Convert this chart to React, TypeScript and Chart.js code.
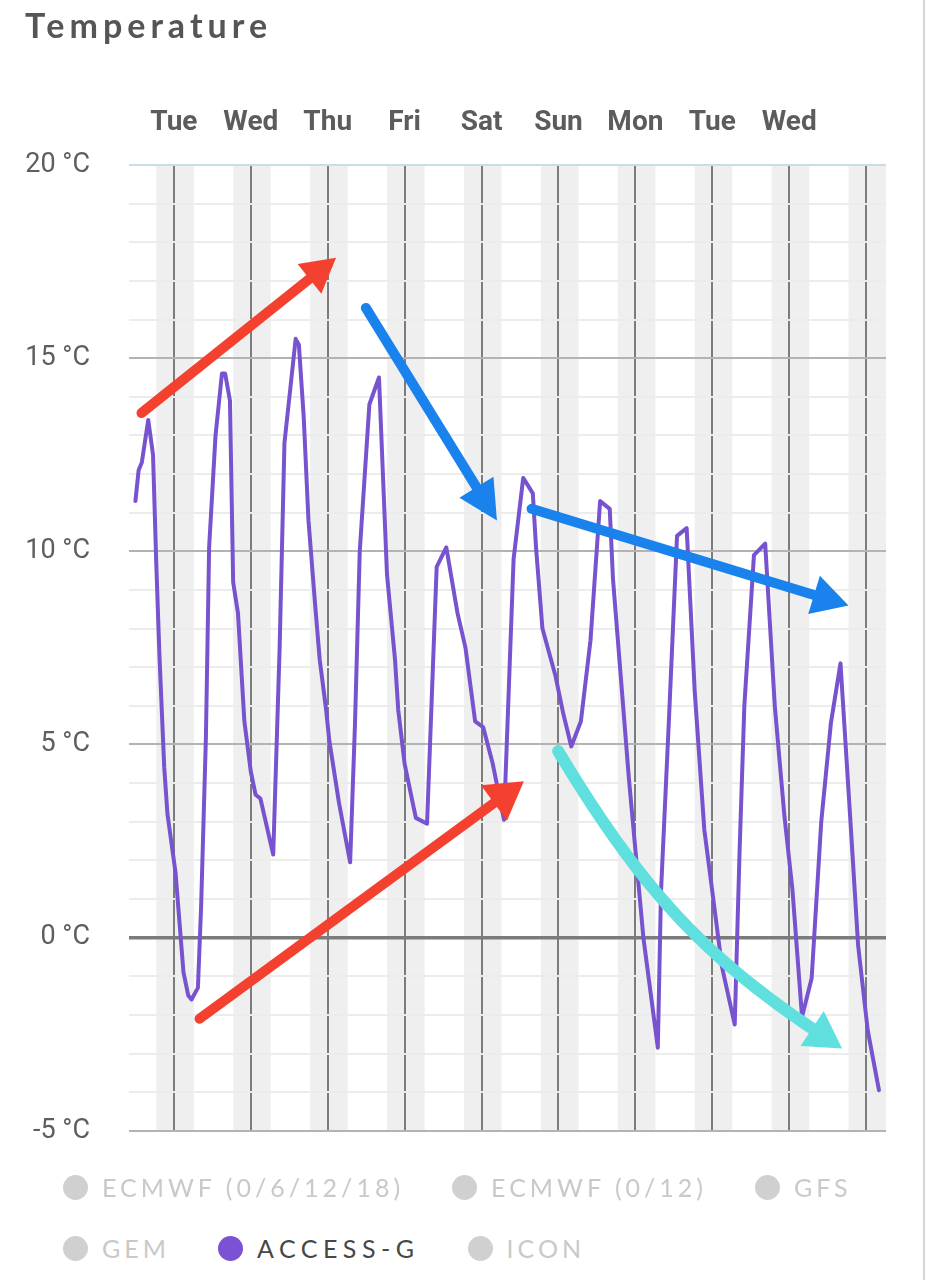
import React, { useEffect, useRef } from "react";
import { Chart, registerables } from "chart.js";

Chart.register(...registerables);

// ---- data (x = hours from Tuesday 00:00, y = °C) ----
const dayLabels = ["Tue", "Wed", "Thu", "Fri", "Sat", "Sun", "Mon", "Tue", "Wed", ""];
const dayTickHours = [0, 24, 48, 72, 96, 120, 144, 168, 192, 216];

const hours = [
  -12, -11, -10, -8, -6.5, -5.5, -4.5, -3, -2, 0.5, 3, 4.5, 5.5, 7.5, 8.5, 10, 11, 13, 15, 16,
  17.5, 18.5, 20, 22, 24, 25.5, 27, 31, 33, 34.5, 38, 39, 40.5, 42, 44, 45.5, 47.5, 48.5, 51.5, 55,
  56.5, 58, 61, 64, 66.5, 69, 70, 72, 75.5, 79, 82, 85, 88.5, 91, 94, 96.5, 99.5, 103, 106, 109,
  112, 113, 115, 119, 121.5, 124, 127, 130, 133, 136, 137, 142, 146.5, 151, 152, 154.5, 157, 160, 162.5, 165.5,
  168, 171, 175, 176.5, 178, 181, 184.5, 187.5, 190.5, 193, 196, 199, 202, 205, 208, 211, 213.5, 216.5, 220,
];
const temps = [
  11.3, 12.1, 12.3, 13.4, 12.5, 9.7, 7.3, 4.4, 3.2, 1.7, -0.9, -1.5, -1.6, -1.3, 0.8, 5.2, 10.1, 13.0, 14.6, 14.6,
  13.9, 9.2, 8.4, 5.6, 4.3, 3.7, 3.6, 2.15, 7.5, 12.8, 15.5, 15.35, 13.5, 10.8, 8.7, 7.2, 5.9, 5.1, 3.5, 1.95,
  5.5, 10.0, 13.8, 14.5, 9.4, 7.2, 5.9, 4.5, 3.1, 2.95, 9.6, 10.1, 8.4, 7.5, 5.6, 5.45, 4.5, 3.05, 9.8, 11.9,
  11.5, 10.1, 8.0, 6.8, 5.8, 4.95, 5.6, 7.7, 11.3, 11.1, 9.3, 4.1, 0.0, -2.85, 1.2, 5.7, 10.4, 10.6, 6.4, 2.8,
  1.2, -0.75, -2.25, 2.2, 6.0, 9.9, 10.2, 6.0, 3.15, 1.25, -2.05, -1.05, 3.0, 5.55, 7.1, 3.15, -0.2, -2.4, -3.95,
];

// night shading [start hour, end hour]
const nightBands = [
  [-5.5, 6.25], [18.5, 30.25], [42.5, 54.25], [66.5, 78.25], [90.5, 102.25],
  [114.5, 126.25], [138.5, 150.25], [162.5, 174.25], [186.5, 198.25], [210.5, 222.25],
];

// hand-drawn annotation arrows, in (hour, °C)
const redArrowUpper = [[-10.1, 13.58], [50.6, 17.6]];
const redArrowLower = [[8.0, -2.1], [109.2, 4.05]];
const blueArrowSteep = [[59.9, 16.3], [100.8, 10.8]];
const blueArrowLong = [[111.6, 11.1], [210.5, 8.6]];
// cubic curve: start, control 1, control 2, tip
const cyanArrowCurve = [[119.9, 4.83], [147.9, 0.97], [167.9, -0.69], [208.5, -2.87]];

const legendRow1 = ["ECMWF (0/6/12/18)", "ECMWF (0/12)", "GFS"];
const legendRow2 = ["GEM", "ACCESS-G", "ICON"];
const activeModel = "ACCESS-G";

const yMin = -5;
const yMax = 20;
const xMin = -14;
const xMax = 222.2;

type P = { x: number; y: number };

function drawArrow(ctx: CanvasRenderingContext2D, pts: P[], color: string, lw: number, headLen: number, headW: number) {
  const n = pts.length;
  const tip = pts[n - 1];
  let k = n - 2;
  while (k > 0 && Math.hypot(tip.x - pts[k].x, tip.y - pts[k].y) < headLen * 1.2) k--;
  const prev = pts[k];
  const ang = Math.atan2(tip.y - prev.y, tip.x - prev.x);
  const cos = Math.cos(ang);
  const sin = Math.sin(ang);
  const base = { x: tip.x - headLen * cos, y: tip.y - headLen * sin };
  ctx.save();
  ctx.strokeStyle = color;
  ctx.fillStyle = color;
  ctx.lineWidth = lw;
  ctx.lineCap = "round";
  ctx.lineJoin = "round";
  ctx.beginPath();
  ctx.moveTo(pts[0].x, pts[0].y);
  for (let i = 1; i <= k; i++) ctx.lineTo(pts[i].x, pts[i].y);
  ctx.lineTo(base.x, base.y);
  ctx.stroke();
  ctx.beginPath();
  ctx.moveTo(tip.x, tip.y);
  ctx.lineTo(base.x - (headW / 2) * sin, base.y + (headW / 2) * cos);
  ctx.lineTo(base.x + (headW / 2) * sin, base.y - (headW / 2) * cos);
  ctx.closePath();
  ctx.fill();
  ctx.restore();
}

function sampleCubic(c: P[], steps: number): P[] {
  const out: P[] = [];
  for (let i = 0; i <= steps; i++) {
    const t = i / steps;
    const u = 1 - t;
    const a = u * u * u, b = 3 * u * u * t, d = 3 * u * t * t, e = t * t * t;
    out.push({
      x: a * c[0].x + b * c[1].x + d * c[2].x + e * c[3].x,
      y: a * c[0].y + b * c[1].y + d * c[2].y + e * c[3].y,
    });
  }
  return out;
}

const overlayPlugin = {
  id: "overlay",
  beforeDraw(chart: any) {
    const { ctx, chartArea: a, scales } = chart;
    const xs = scales.x;
    ctx.save();
    ctx.fillStyle = "#efefef";
    nightBands.forEach(([s, e]) => {
      const x0 = Math.max(a.left, xs.getPixelForValue(s));
      const x1 = Math.min(a.right, xs.getPixelForValue(e));
      if (x1 > x0) ctx.fillRect(x0, a.top, x1 - x0, a.bottom - a.top);
    });
    ctx.restore();
  },
  afterDraw(chart: any) {
    const { ctx, scales } = chart;
    const toPx = (arr: number[][]) => arr.map(([h, t]) => ({ x: scales.x.getPixelForValue(h), y: scales.y.getPixelForValue(t) }));
    drawArrow(ctx, toPx(redArrowUpper), "#f4412f", 10, 34, 38);
    drawArrow(ctx, toPx(redArrowLower), "#f4412f", 10, 37, 44);
    drawArrow(ctx, toPx(blueArrowSteep), "#1a82ec", 10, 39, 40);
    drawArrow(ctx, toPx(blueArrowLong), "#1a82ec", 10, 36, 40);
    drawArrow(ctx, sampleCubic(toPx(cyanArrowCurve), 60), "#5fe0de", 12, 36, 42);
  },
};

export default function App() {
  const canvasRef = useRef<HTMLCanvasElement | null>(null);

  useEffect(() => {
    const canvas = canvasRef.current;
    if (!canvas) return;
    const points = hours.map((h, i) => ({ x: h, y: temps[i] }));
    const chart = new Chart(canvas, {
      type: "line",
      data: {
        datasets: [
          {
            label: "ACCESS-G",
            data: points,
            borderColor: "#7753cf",
            borderWidth: 4,
            borderJoinStyle: "round",
            borderCapStyle: "round",
            pointRadius: 0,
            tension: 0,
            fill: false,
          },
        ],
      },
      options: {
        responsive: true,
        maintainAspectRatio: false,
        animation: false,
        layout: { padding: { left: 0, right: 34, top: 0, bottom: 10 } },
        plugins: { legend: { display: false }, tooltip: { enabled: false }, title: { display: false } },
        scales: {
          x: {
            type: "linear",
            position: "top",
            min: xMin,
            max: xMax,
            afterBuildTicks: (s: any) => {
              s.ticks = dayTickHours.map((v) => ({ value: v }));
            },
            afterFit: (s: any) => {
              s.height = 165;
            },
            grid: { color: "#7c7c7c", lineWidth: 2, drawTicks: false },
            border: { display: false },
            ticks: {
              autoSkip: false,
              maxRotation: 0,
              padding: 25,
              color: "#5c5c5c",
              font: { family: "Roboto", size: 28, weight: "bold" },
              callback: (_v: any, i: number) => dayLabels[i],
            },
          },
          y: {
            type: "linear",
            min: yMin,
            max: yMax,
            afterFit: (s: any) => {
              s.width = 129;
            },
            grid: {
              drawTicks: false,
              color: (c: any) => {
                const v = c.tick ? c.tick.value : 0;
                if (v === yMax) return "#c8dcea";
                if (v === 0) return "#7b7b7b";
                if (v % 5 === 0) return "#b3b3b3";
                return "#ececec";
              },
              lineWidth: (c: any) => {
                const v = c.tick ? c.tick.value : 0;
                if (v === 0) return 3.5;
                return 2;
              },
            },
            border: { display: false },
            ticks: {
              stepSize: 1,
              autoSkip: false,
              padding: 39,
              color: "#5e5e5e",
              font: { family: "Roboto", size: 27 },
              callback: (v: any) => (Number(v) % 5 === 0 ? `${v} °C` : ""),
            },
          },
        },
      },
      plugins: [overlayPlugin],
    } as any);
    return () => chart.destroy();
  }, []);

  const legendItem = (name: string) => {
    const active = name === activeModel;
    return (
      <div key={name} style={{ display: "flex", alignItems: "center", marginRight: 48 }}>
        <span
          style={{
            display: "inline-block",
            width: 25,
            height: 25,
            borderRadius: "50%",
            background: active ? "#7b52d3" : "#d0d0d0",
            marginRight: 14,
          }}
        />
        <span
          style={{
            fontFamily: "Lato, sans-serif",
            fontSize: 25,
            letterSpacing: active ? 5.5 : 4,
            color: active ? "#474747" : "#c9c9c9",
            whiteSpace: "nowrap",
          }}
        >
          {name}
        </span>
      </div>
    );
  };

  return (
    <div style={{ position: "absolute", left: 0, top: 0, width: 939, height: 1280, background: "#fff", overflow: "hidden" }}>
      <div style={{ position: "absolute", left: 0, top: 0, width: 920, height: 1186 }}>
        <canvas ref={canvasRef} />
      </div>
      <div
        style={{
          position: "absolute",
          left: 25,
          top: 8,
          fontFamily: "Lato, sans-serif",
          fontWeight: 700,
          fontSize: 34,
          lineHeight: "34px",
          letterSpacing: 5,
          color: "#555",
        }}
      >
        Temperature
      </div>
      {[legendRow1, legendRow2].map((row, r) => (
        <div
          key={r}
          style={{ position: "absolute", left: 63, top: r === 0 ? 1172 : 1233, height: 30, display: "flex", alignItems: "center" }}
        >
          {row.map((name) => legendItem(name))}
        </div>
      ))}
      <div style={{ position: "absolute", left: 923, top: 0, width: 2, height: 1280, background: "#d6d6d6" }} />
    </div>
  );
}
